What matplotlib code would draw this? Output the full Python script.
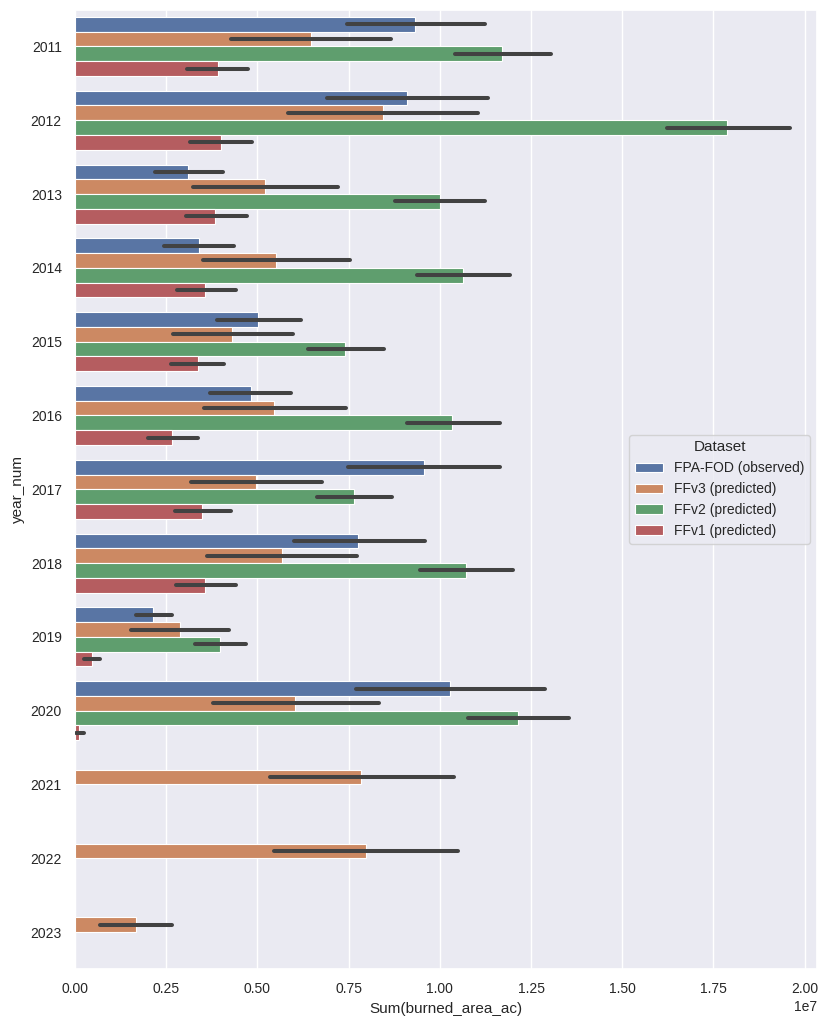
import numpy as np
import matplotlib
matplotlib.use('Agg')
import matplotlib.pyplot as plt
import seaborn as sns

years = ['2011', '2012', '2013', '2014', '2015', '2016', '2017',
         '2018', '2019', '2020', '2021', '2022', '2023']
datasets = ['FPA-FOD (observed)', 'FFv3 (predicted)', 'FFv2 (predicted)', 'FFv1 (predicted)']

# sums in units of 1e7 acres, nan = no data for that year
fpa_fod = [0.933, 0.911, 0.311, 0.340, 0.502, 0.482, 0.956, 0.777, 0.215, 1.028, np.nan, np.nan, np.nan]
ffv3 = [0.647, 0.844, 0.521, 0.550, 0.431, 0.545, 0.495, 0.566, 0.288, 0.603, 0.784, 0.797, 0.166]
ffv2 = [1.171, 1.788, 1.000, 1.063, 0.739, 1.032, 0.765, 1.072, 0.397, 1.215, np.nan, np.nan, np.nan]
ffv1 = [0.391, 0.399, 0.385, 0.356, 0.336, 0.267, 0.347, 0.356, 0.047, 0.012, np.nan, np.nan, np.nan]

# confidence interval bounds (1e7)
fpa_fod_lo = [0.746, 0.691, 0.220, 0.244, 0.390, 0.371, 0.749, 0.600, 0.168, 0.769, np.nan, np.nan, np.nan]
fpa_fod_hi = [1.123, 1.133, 0.407, 0.436, 0.620, 0.593, 1.165, 0.958, 0.267, 1.288, np.nan, np.nan, np.nan]
ffv3_lo = [0.428, 0.585, 0.324, 0.350, 0.269, 0.353, 0.317, 0.361, 0.153, 0.377, 0.534, 0.546, 0.069]
ffv3_hi = [0.867, 1.105, 0.721, 0.755, 0.597, 0.742, 0.676, 0.772, 0.422, 0.832, 1.038, 1.050, 0.267]
ffv2_lo = [1.041, 1.622, 0.877, 0.937, 0.638, 0.909, 0.663, 0.946, 0.330, 1.077, np.nan, np.nan, np.nan]
ffv2_hi = [1.305, 1.959, 1.123, 1.193, 0.847, 1.164, 0.870, 1.200, 0.469, 1.355, np.nan, np.nan, np.nan]
ffv1_lo = [0.308, 0.315, 0.304, 0.279, 0.263, 0.200, 0.273, 0.276, 0.026, 0.003, np.nan, np.nan, np.nan]
ffv1_hi = [0.474, 0.485, 0.472, 0.441, 0.409, 0.337, 0.428, 0.441, 0.069, 0.026, np.nan, np.nan, np.nan]

sns.set_theme(style='darkgrid')
plt.rcParams['font.family'] = ['Liberation Sans', 'DejaVu Sans']

colors = sns.color_palette('deep', 4)
colors = [sns.desaturate(c, 0.75) for c in colors]

series = [(fpa_fod, fpa_fod_lo, fpa_fod_hi),
          (ffv3, ffv3_lo, ffv3_hi),
          (ffv2, ffv2_lo, ffv2_hi),
          (ffv1, ffv1_lo, ffv1_hi)]

fig = plt.figure(figsize=(8.26, 10.24), dpi=100)
ax = fig.add_axes([0.0908, 0.0537, 0.898, 0.937])

ypos = np.arange(len(years))
width = 0.2
for i, (vals, lo, hi) in enumerate(series):
    vals = np.array(vals) * 1e7
    lo = np.array(lo) * 1e7
    hi = np.array(hi) * 1e7
    off = ypos - 0.4 + width * (i + 0.5)
    ok = ~np.isnan(vals)
    ax.barh(off[ok], vals[ok], height=width, color=colors[i], label=datasets[i],
            edgecolor='white', linewidth=0.8)
    for y, l, h in zip(off[ok], lo[ok], hi[ok]):
        ax.plot([l, h], [y, y], color='.26', lw=2.9, solid_capstyle='round', zorder=3)

ax.set_yticks(ypos)
ax.set_yticklabels(years)
ax.set_ylim(len(years) - 0.5, -0.5)
ax.set_xlim(0, 2.033e7)
ax.yaxis.grid(False)
ax.set_xlabel('Sum(burned_area_ac)', fontsize=11)
ax.set_ylabel('year_num', fontsize=11)
ax.tick_params(labelsize=10)
ax.xaxis.get_offset_text().set_fontsize(10)
leg = ax.legend(title='Dataset', loc='center right', fontsize=10, title_fontsize=11)

fig.savefig('out.png', dpi=100)
